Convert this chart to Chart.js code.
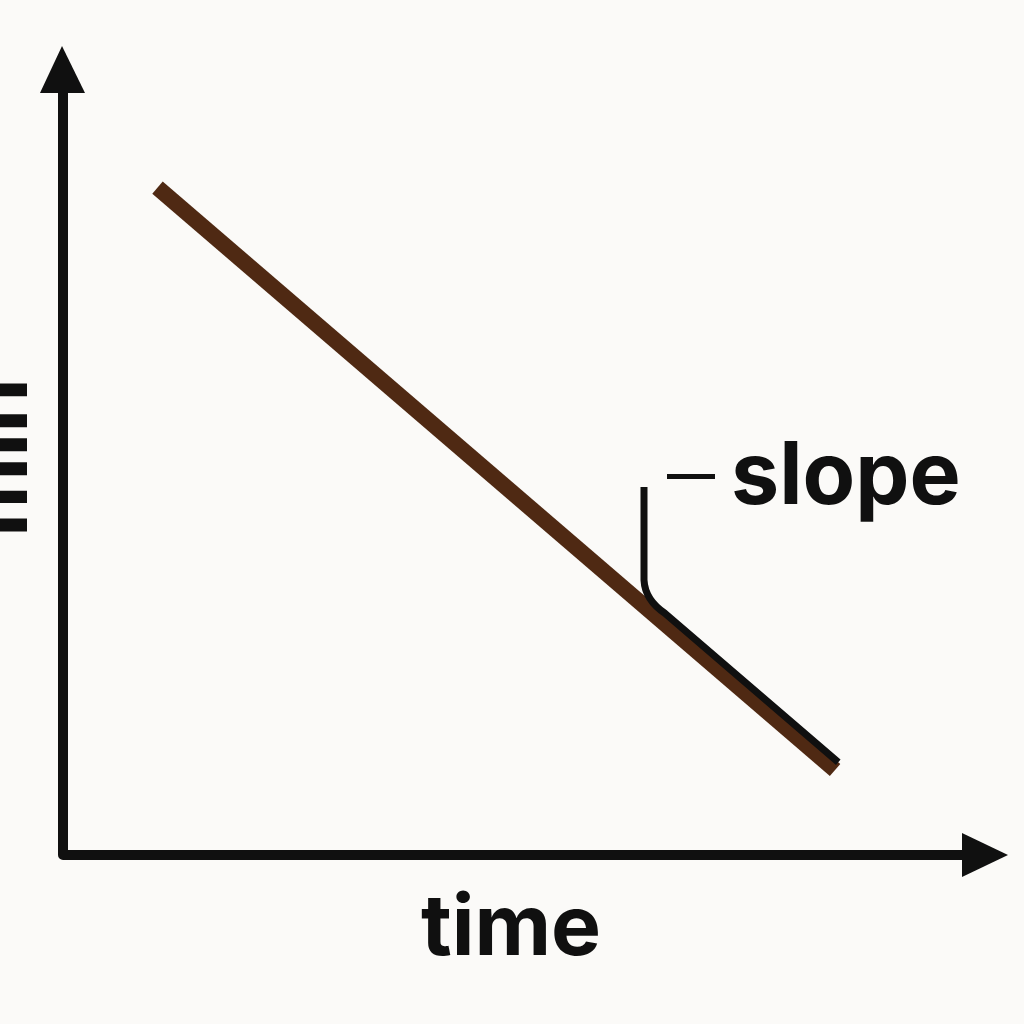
<!DOCTYPE html>
<html>
<head>
<meta charset="utf-8">
<script src="https://cdn.jsdelivr.net/npm/chart.js@4.4.1/dist/chart.umd.min.js"></script>
<style>
  html, body { margin: 0; padding: 0; background: #fbfaf8; }
  #wrap { width: 1024px; height: 1024px; }
</style>
</head>
<body>
<div id="wrap"><canvas id="chart" width="1024" height="1024"></canvas></div>
<script>
// Data
const timeValues = [1.0, 8.17];
const amountValues = [8.25, 1.05];
const xRange = [0, 10];
const yRange = [0, 10];
const xLabel = 'time';
const yLabel = 'min';
const noteLabel = 'slope';

const INK = '#101010';
const LINE_COLOR = '#4f2913';
const FONT = 'Inter, "Noto Sans", sans-serif';

// Axes with arrowheads, labels and the slope note
const sketchPlugin = {
    id: 'sketch',
    beforeDraw(chart) {
        const ctx = chart.ctx;
        ctx.save();
        ctx.fillStyle = '#fbfaf8';
        ctx.fillRect(0, 0, chart.width, chart.height);
        ctx.restore();
    },
    beforeDatasetsDraw(chart) {
        const { ctx, chartArea: a } = chart;
        const ox = a.left, oy = a.bottom;
        ctx.save();
        // axis lines
        ctx.strokeStyle = INK;
        ctx.lineWidth = 10;
        ctx.lineJoin = 'round';
        ctx.beginPath();
        ctx.moveTo(ox, a.top + 40);
        ctx.lineTo(ox, oy);
        ctx.lineTo(a.right - 40, oy);
        ctx.stroke();
        // arrowheads
        ctx.fillStyle = INK;
        ctx.beginPath();
        ctx.moveTo(ox - 1, a.top);
        ctx.lineTo(ox - 23, a.top + 47);
        ctx.lineTo(ox + 22, a.top + 47);
        ctx.closePath();
        ctx.fill();
        ctx.beginPath();
        ctx.moveTo(a.right, oy);
        ctx.lineTo(a.right - 46, oy - 22);
        ctx.lineTo(a.right - 46, oy + 22);
        ctx.closePath();
        ctx.fill();
        // x label
        ctx.font = '700 84px ' + FONT;
        ctx.textAlign = 'center';
        ctx.textBaseline = 'alphabetic';
        ctx.fillText(xLabel, 511, 955);
        // y label, mostly cut off at the left edge
        ctx.translate(27, 537);
        ctx.rotate(-Math.PI / 2);
        ctx.textAlign = 'left';
        ctx.font = '700 88px ' + FONT;
        ctx.fillText(yLabel, 0, 0);
        ctx.restore();
    },
    afterDatasetsDraw(chart) {
        const { ctx, scales: { x, y } } = chart;
        const p0 = { x: x.getPixelForValue(timeValues[0]), y: y.getPixelForValue(amountValues[0]) };
        const p1 = { x: x.getPixelForValue(timeValues[1]), y: y.getPixelForValue(amountValues[1]) };
        const dx = p1.x - p0.x, dy = p1.y - p0.y;
        const len = Math.hypot(dx, dy);
        const nx = dy / len, ny = -dx / len; // normal towards upper right
        const off = 8;
        const at = (px) => {
            const t = (px - p0.x) / dx;
            return { x: p0.x + t * dx + nx * off, y: p0.y + t * dy + ny * off };
        };
        const s = at(660);
        const e = at(p1.x - 2);
        ctx.save();
        ctx.strokeStyle = INK;
        ctx.lineCap = 'butt';
        // bracket leader
        ctx.lineWidth = 7;
        ctx.beginPath();
        ctx.moveTo(644, 487);
        ctx.lineTo(644, 580);
        ctx.quadraticCurveTo(645, 600, s.x, s.y);
        ctx.lineTo(e.x, e.y);
        ctx.stroke();
        // small dash
        ctx.lineWidth = 5;
        ctx.beginPath();
        ctx.moveTo(667, 476.5);
        ctx.lineTo(715, 476.5);
        ctx.stroke();
        // label
        ctx.fillStyle = INK;
        ctx.font = '700 86px ' + FONT;
        ctx.textAlign = 'left';
        ctx.textBaseline = 'alphabetic';
        ctx.fillText(noteLabel, 731, 504);
        ctx.restore();
    }
};

new Chart(document.getElementById('chart'), {
    type: 'scatter',
    data: {
        datasets: [{
            data: timeValues.map((t, i) => ({ x: t, y: amountValues[i] })),
            showLine: true,
            borderColor: LINE_COLOR,
            borderWidth: 16,
            borderCapStyle: 'butt',
            pointRadius: 0,
            pointHoverRadius: 0,
            clip: false
        }]
    },
    options: {
        responsive: false,
        animation: false,
        devicePixelRatio: 1,
        layout: { padding: { left: 63, top: 46, right: 16, bottom: 169 } },
        plugins: {
            legend: { display: false },
            tooltip: { enabled: false }
        },
        scales: {
            x: { type: 'linear', min: xRange[0], max: xRange[1], display: false },
            y: { type: 'linear', min: yRange[0], max: yRange[1], display: false }
        }
    },
    plugins: [sketchPlugin]
});
</script>
</body>
</html>
